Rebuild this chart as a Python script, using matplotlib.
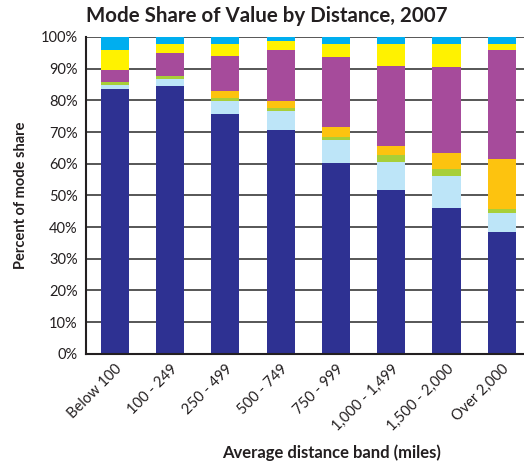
import numpy as np
import matplotlib
matplotlib.use("Agg")
import matplotlib.pyplot as plt

# ==== Data (percent of value shipped) ====
bands = ["Below 100", "100 - 249", "250 - 499", "500 - 749", "750 - 999",
         "1,000 - 1,499", "1,500 - 2,000", "Over 2,000"]

truck     = [83.5, 84.4, 75.6, 70.6, 60.2, 51.6, 46.0, 38.4]
rail      = [1.3, 2.3, 4.1, 6.0, 7.2, 8.9, 10.1, 6.0]
water     = [1.0, 0.9, 1.0, 0.9, 0.9, 2.1, 2.2, 1.2]
air       = [0.0, 0.0, 2.2, 2.2, 3.2, 2.9, 5.0, 15.8]
multiple  = [3.7, 7.3, 11.0, 16.1, 22.1, 25.3, 27.1, 34.4]
pipeline  = [6.3, 2.8, 3.8, 2.8, 4.1, 6.9, 7.3, 1.9]
other     = [4.2, 2.3, 2.3, 1.4, 2.3, 2.3, 2.3, 2.3]

series = [truck, rail, water, air, multiple, pipeline, other]
colors = ["#2E3192", "#BDE5F8", "#A8CF38", "#FDC30F", "#A64B9B", "#FFF200", "#00AEEF"]

plt.rcParams['font.family'] = ['Lato', 'DejaVu Sans']

fig = plt.figure(figsize=(5.24, 4.68), dpi=100)
ax = fig.add_axes([0.164, 0.244, 0.836, 0.677])

x = np.arange(len(bands))
bottom = np.zeros(len(bands))
for vals, c in zip(series, colors):
    ax.bar(x, vals, bottom=bottom, width=0.51, color=c, zorder=2)
    bottom += np.array(vals)

ax.set_xlim(-0.52, 7.4)
ax.set_ylim(0, 100)
ax.set_yticks(np.arange(0, 101, 10))
ax.set_yticklabels([f"{v}%" for v in range(0, 101, 10)], fontsize=10.5, color="#231F20")
ax.yaxis.grid(True, color="#3a3a3a", linewidth=1.2, zorder=0)
ax.set_axisbelow(True)
ax.tick_params(axis='both', length=0, pad=6)

ax.set_xticks(x)
ax.set_xticklabels(bands, rotation=45, ha='right', rotation_mode='anchor',
                   fontsize=10.5, color="#231F20")

for s in ['top', 'right']:
    ax.spines[s].set_visible(False)
ax.spines['left'].set_linewidth(1.5)
ax.spines['bottom'].set_linewidth(1.5)
ax.spines['left'].set_color("#231F20")
ax.spines['bottom'].set_color("#231F20")

ax.set_ylabel("Percent of mode share", fontsize=10.5, fontweight='bold',
              color="#231F20", labelpad=9)
fig.text(0.632, 0.033, "Average distance band (miles)", ha='center', va='center',
         fontsize=12, fontweight='bold', color="#231F20")
fig.text(0.51, 0.966, "Mode Share of Value by Distance, 2007", ha='center', va='center',
         fontsize=14.8, fontweight='bold', color="#231F20")

fig.savefig("out.png", dpi=100)
